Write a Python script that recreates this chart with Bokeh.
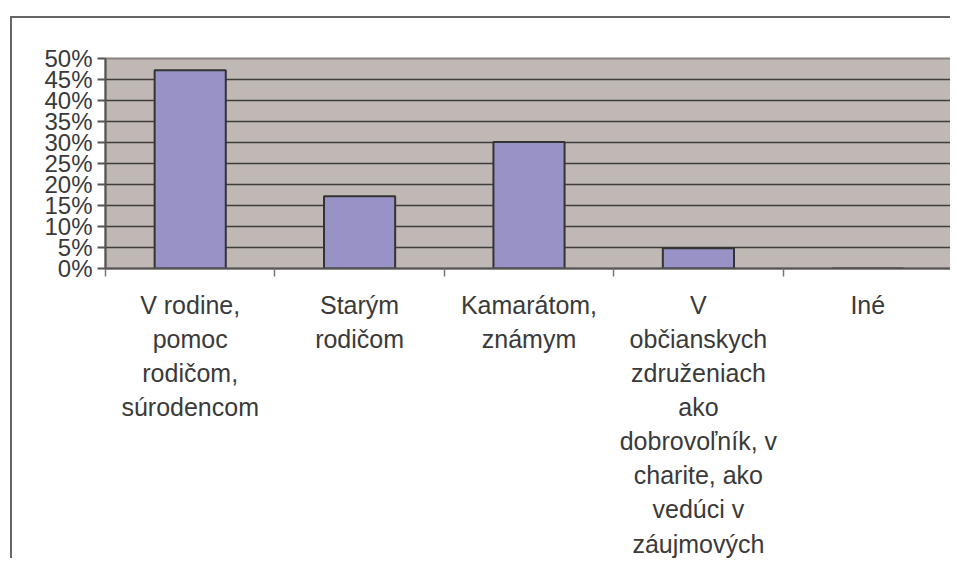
from bokeh.plotting import figure
from bokeh.models import (Range1d, FixedTicker, LinearAxis, PrintfTickFormatter)
from bokeh.embed import file_html
from bokeh.resources import INLINE

categories = [
    "V rodine,\npomoc\nrodičom,\nsúrodencom",
    "Starým\nrodičom",
    "Kamarátom,\nznámym",
    "V\nobčianskych\nzdruženiach\nako\ndobrovoľník, v\ncharite, ako\nvedúci v\nzáujmových",
    "Iné",
]
values = [47.2, 17.2, 30.1, 4.8, 0.0]
y_ticks = [0, 5, 10, 15, 20, 25, 30, 35, 40, 45, 50]

n = len(categories)
centers = [i + 0.5 for i in range(n)]
bounds = list(range(n + 1))

TEXT = "#3a3a3a"
FONT = "Liberation Sans"

p = figure(width=940, height=542, output_backend="svg", toolbar_location=None,
           x_range=Range1d(0, n), y_range=Range1d(0, 50),
           x_axis_type=None, y_axis_location="left",
           min_border_left=93, min_border_top=40, min_border_right=0,
           min_border_bottom=10)
p.margin = (16, 0, 0, 10)
p.styles = {"border-left": "2px solid #666666", "border-top": "2px solid #666666"}

p.background_fill_color = "#C0B8B5"
p.border_fill_color = "white"
p.outline_line_color = "#8a8080"
p.outline_line_width = 2

p.vbar(x=centers, top=values, width=0.42, bottom=0,
       fill_color="#9992C7", line_color="#333333", line_width=2)

# y axis
ya = p.yaxis[0]
ya.ticker = FixedTicker(ticks=y_ticks)
ya.formatter = PrintfTickFormatter(format="%d%%")
ya.major_label_text_font = FONT
ya.major_label_text_font_size = "24px"
ya.major_label_text_color = TEXT
ya.major_label_standoff = 5
ya.major_tick_out = 8
ya.major_tick_in = 0
ya.minor_tick_out = 0
ya.minor_tick_in = 0
ya.axis_line_color = "#555555"
ya.axis_line_width = 2
ya.major_tick_line_color = "#555555"
ya.major_tick_line_width = 2

p.ygrid.ticker = FixedTicker(ticks=y_ticks[1:-1])
p.ygrid.grid_line_color = "#3d3d3d"
p.ygrid.grid_line_width = 1.5
p.xgrid.visible = False

# x axis: labels at category centres, tick marks at category boundaries
xa = LinearAxis(ticker=FixedTicker(ticks=centers, minor_ticks=bounds))
xa.major_label_overrides = {c: lab for c, lab in zip(centers, categories)}
xa.major_label_text_font = FONT
xa.major_label_text_font_size = "25px"
xa.major_label_text_color = TEXT
xa.major_label_text_line_height = 1.22
xa.major_label_standoff = 14
xa.major_tick_out = 8
xa.major_tick_in = 0
xa.major_tick_line_color = None
xa.minor_tick_out = 8
xa.minor_tick_in = 0
xa.minor_tick_line_color = "#777777"
xa.minor_tick_line_width = 1.5
xa.axis_line_color = "#555555"
xa.axis_line_width = 2
p.add_layout(xa, "below")

open("out.html", "w").write(file_html(p, INLINE))
